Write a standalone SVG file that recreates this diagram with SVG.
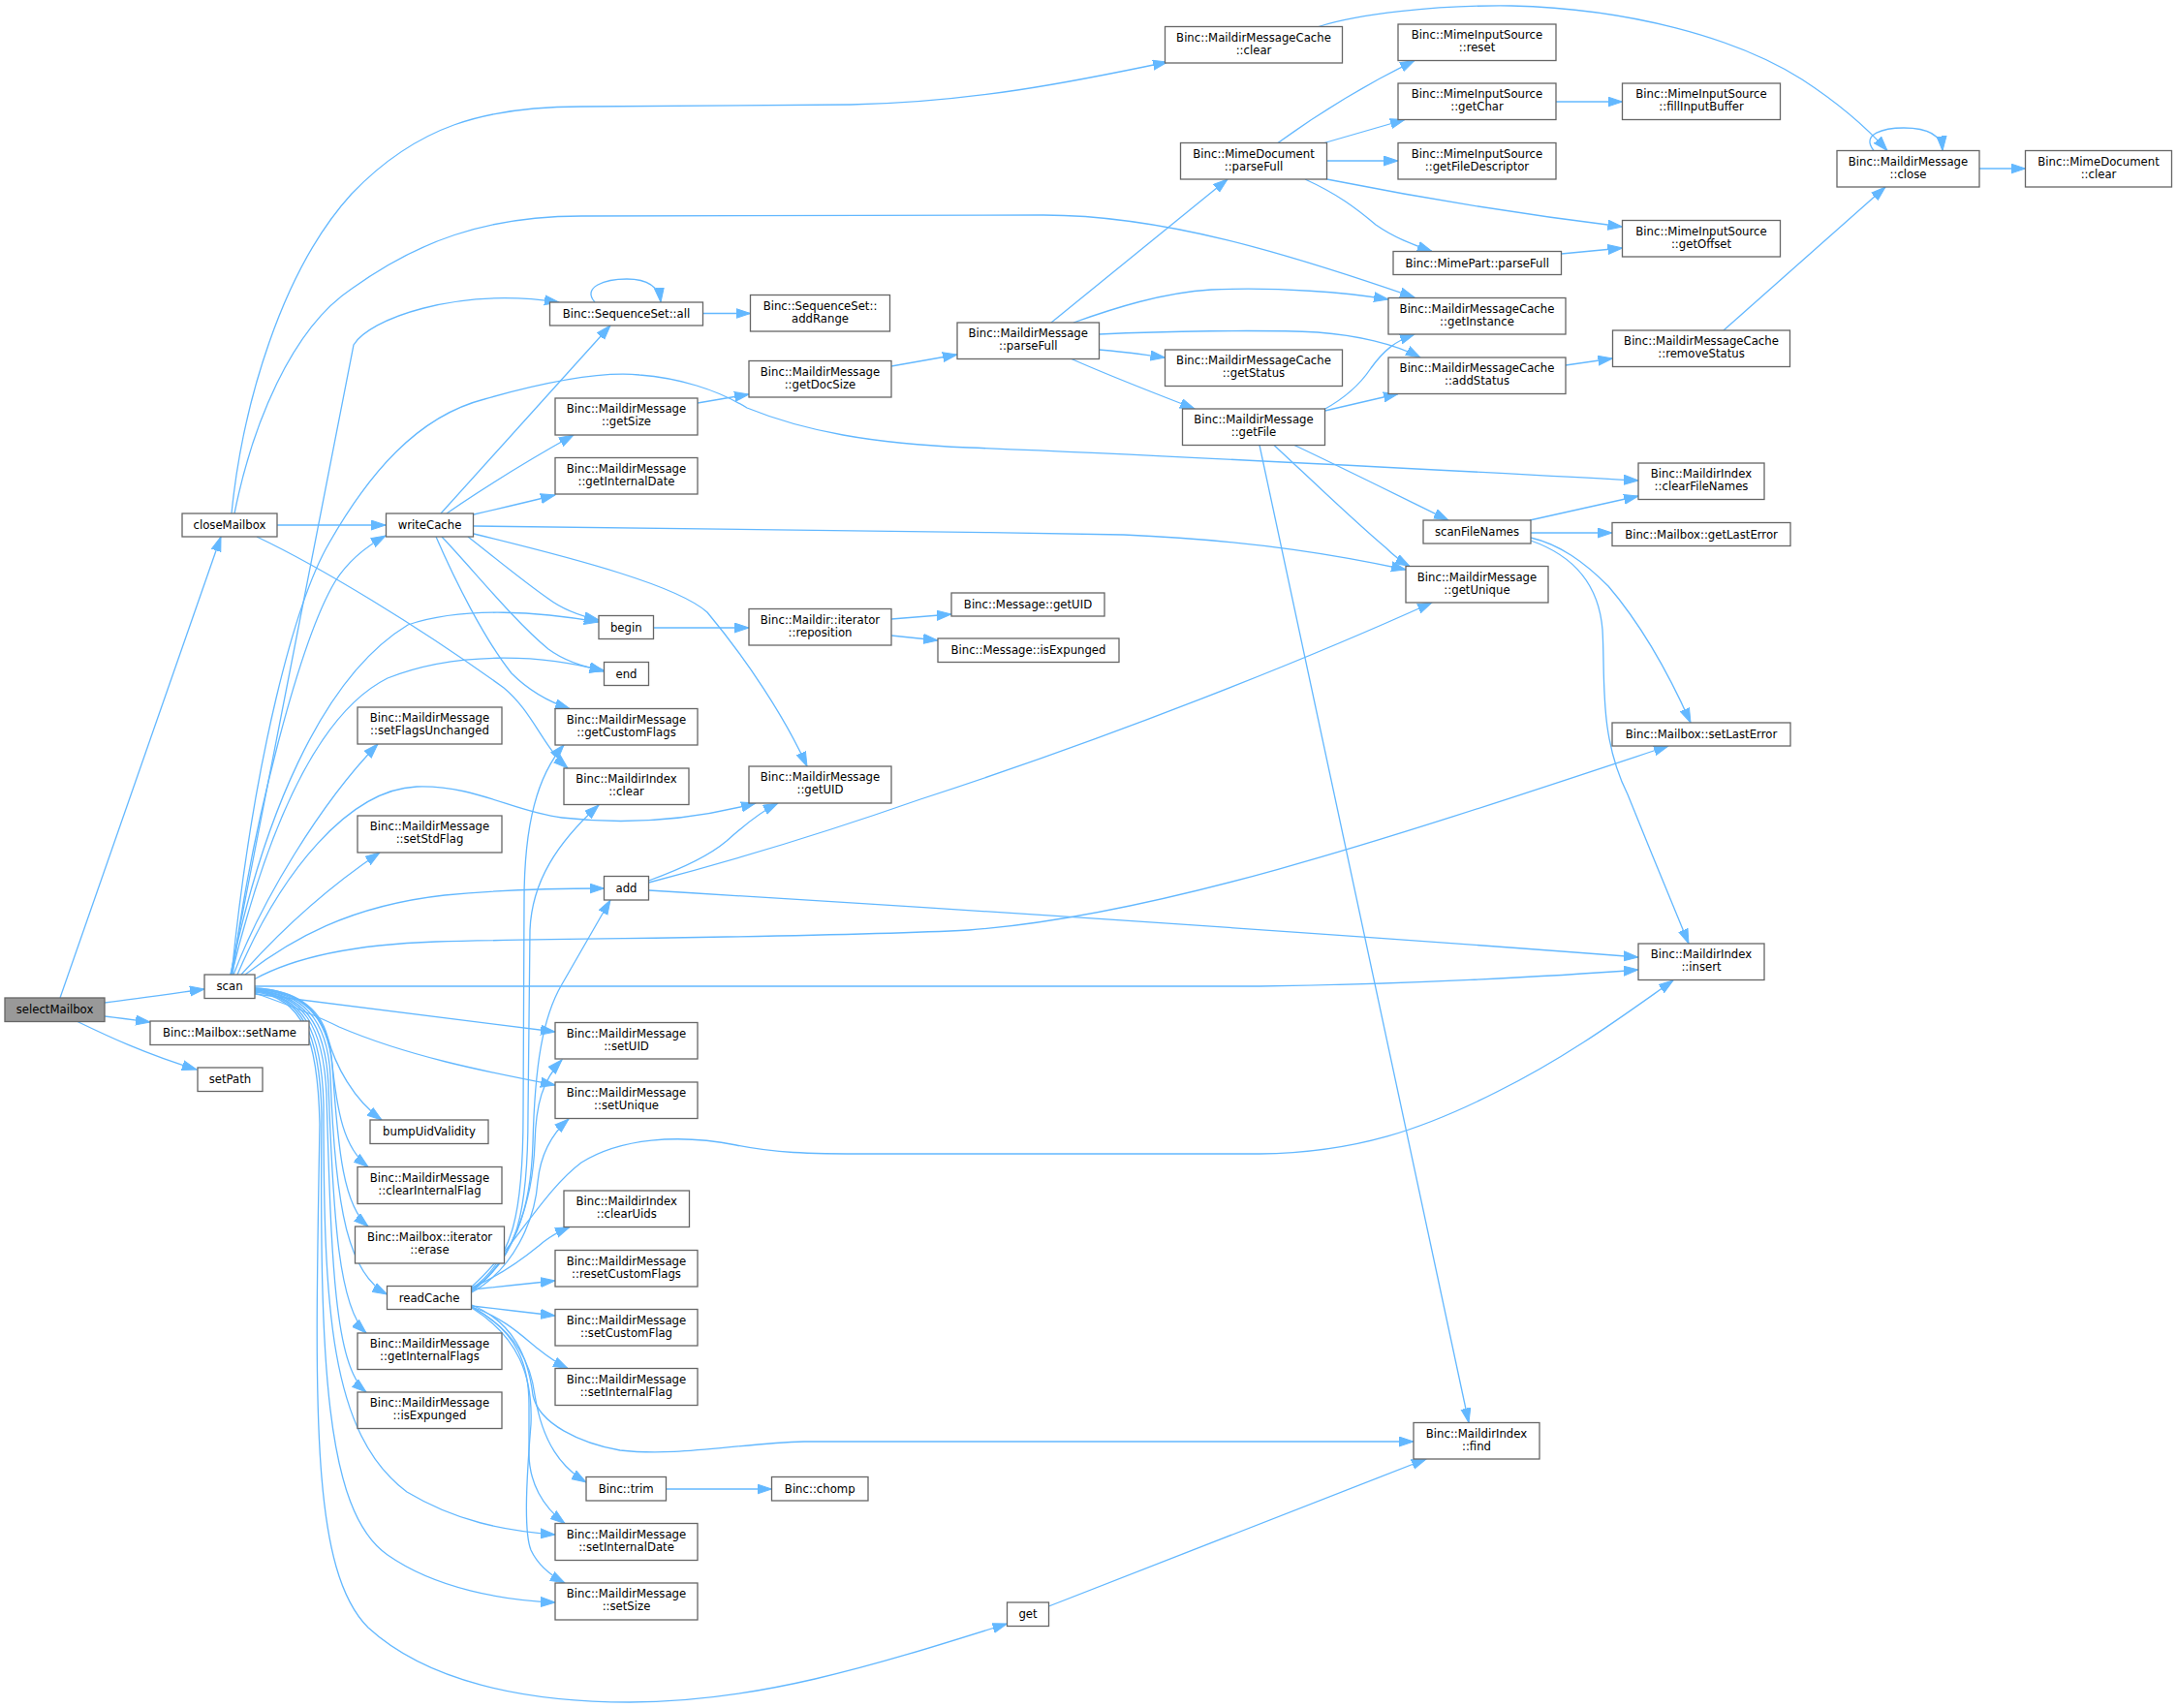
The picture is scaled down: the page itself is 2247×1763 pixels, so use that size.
<svg xmlns="http://www.w3.org/2000/svg" width="2247" height="1763" viewBox="0 0 2247 1763">
<style>
.node rect{fill:#ffffff;stroke:#666666;stroke-width:1.3}
.node text{font-family:"DejaVu Sans","Liberation Sans",sans-serif;font-size:11.7px;text-anchor:middle;fill:#000000}
#n_selectMailbox rect{fill:#999999}
.edges path{fill:none;stroke:#63b8ff;stroke-width:1.3;marker-end:url(#arr)}
</style>
<defs>
<marker id="arr" markerUnits="userSpaceOnUse" markerWidth="16" markerHeight="12" refX="15" refY="5.5" orient="auto">
<path d="M0,0.5 L15,5.5 L0,10.5 Z" fill="#63b8ff" stroke="#63b8ff" stroke-width="1"/>
</marker>
</defs>
<rect width="2247" height="1763" fill="#ffffff"/>
<g class="edges">
<path d="M62,1030 L228,554"/>
<path d="M108,1035 C140,1031 175,1026 211,1021"/>
<path d="M108,1049 C125,1051 140,1053 155,1055"/>
<path d="M80,1054.5 C110,1069 150,1088 203,1104"/>
<path d="M239,530 C250,420 290,280 363,200 C430,130 500,110 600,110 L878,108 C1000,106 1110,84 1205,64"/>
<path d="M242,530 C260,440 300,340 363,298 C430,250 500,223 600,223 L1077,222 C1200,222 1330,262 1460,307"/>
<path d="M286,542 L398,542"/>
<path d="M265,554 C330,585 430,645 520,710 C550,735 560,770 586,793"/>
<path d="M455,530 L630,336"/>
<path d="M461,530 C490,510 540,478 592,449"/>
<path d="M489,531 C515,525 545,518 573,511"/>
<path d="M489,543 C600,545 900,547 1160,552 C1300,558 1390,575 1451,588"/>
<path d="M483,554 C510,575 540,600 566,618 C582,630 600,636 618,640"/>
<path d="M456,554 C490,590 530,640 566,670 C585,684 605,689 623.5,692"/>
<path d="M450,554 C470,600 500,660 528,695 C545,712 565,724 588,731.5"/>
<path d="M489,551 C600,578 700,605 730,632 C770,680 810,740 833,791"/>
<path d="M238,1006 L365,356 C380,330 470,296 577,312"/>
<path d="M239,1006 C262,780 305,620 340,560 C380,490 430,430 500,412 C560,395 620,383 660,387 C700,390 740,402 771,421 C830,445 900,458 1000,462 C1250,472 1500,486 1691,496"/>
<path d="M240,1006 C260,850 310,660 346,600 C360,578 378,564 398,553"/>
<path d="M238,1006 C270,850 330,700 421,645 C480,625 560,632 618,642"/>
<path d="M239,1006 C270,880 320,740 400,700 C470,672 560,675 623.5,693"/>
<path d="M241,1006 C270,930 330,830 390,768"/>
<path d="M245,1006 C290,900 360,815 430,812 C490,810 530,838 580,844 C650,852 720,845 780,829"/>
<path d="M249,1006 C290,960 340,915 392,880"/>
<path d="M253,1006 C300,970 360,935 459,924 C520,918 570,917 623.5,917"/>
<path d="M262,1011 C300,990 360,975 450,972 C600,968 850,968 1000,960 C1200,945 1450,860 1722,770"/>
<path d="M263,1018 L1300,1018 C1450,1016 1600,1008 1691,1001"/>
<path d="M263,1026 C350,1037 460,1051 573,1065"/>
<path d="M263,1025 C300,1038 330,1050 350,1060 C420,1090 500,1106 573,1120"/>
<path d="M263,1020 C305,1022 330,1040 338,1070 C346,1100 365,1135 394,1156"/>
<path d="M263,1020 C310,1022 336,1045 342,1090 C348,1150 355,1185 380,1204.5"/>
<path d="M263,1021 C312,1023 338,1048 343,1100 C349,1190 355,1245 380,1266"/>
<path d="M263,1021 C312,1024 338,1052 341,1110 C346,1250 360,1315 399.5,1336"/>
<path d="M263,1022 C312,1025 336,1055 339,1120 C344,1260 350,1350 378,1376"/>
<path d="M263,1022 C312,1026 334,1058 337,1130 C342,1300 345,1410 378,1437"/>
<path d="M263,1023 C312,1027 332,1062 334,1140 C334,1350 340,1480 420,1540 C470,1570 520,1580 573,1584"/>
<path d="M263,1023 C312,1028 330,1066 332,1150 C330,1400 335,1560 400,1605 C450,1640 520,1652 573,1654"/>
<path d="M263,1024 C312,1029 328,1070 330,1160 C325,1450 320,1620 380,1680 C440,1735 540,1757 650,1757 C780,1757 900,1720 1039.5,1676"/>
<path d="M487,1330 C530,1300 540,1250 540,1150 L541,930 C541,850 555,800 582,769"/>
<path d="M487,1331 C535,1300 545,1250 545,1150 L547,960 C549,910 575,870 618,831"/>
<path d="M487,1332 C530,1300 548,1250 550,1180 C552,1100 560,1050 580,1016 L630,929"/>
<path d="M487,1333 C530,1300 550,1240 552,1180 C553,1140 560,1115 580,1094"/>
<path d="M487,1334 C530,1310 552,1260 555,1220 C558,1190 570,1170 587,1155"/>
<path d="M487,1328 C530,1290 560,1230 600,1200 C640,1175 700,1170 760,1182 C800,1190 830,1191 900,1191 L1300,1191 C1400,1190 1470,1165 1545,1127 C1620,1090 1680,1045 1727,1012"/>
<path d="M487,1329 C520,1315 545,1295 556,1286 C565,1278 575,1272 588,1266.5"/>
<path d="M487,1331 C515,1328 545,1325 573,1322"/>
<path d="M487,1348 C515,1351 545,1355 573,1358"/>
<path d="M487,1349 C520,1360 540,1380 555,1392 C565,1400 575,1407 586,1412.5"/>
<path d="M487,1347 C530,1365 545,1400 550,1440 C556,1470 600,1490 640,1497 C700,1504 760,1490 830,1488 L1459,1488"/>
<path d="M487,1349 C535,1375 548,1410 552,1440 C560,1490 580,1515 605,1530"/>
<path d="M487,1349 C535,1375 546,1410 546,1450 L546,1500 C546,1530 560,1555 583,1572.5"/>
<path d="M487,1350 C535,1380 550,1420 548,1470 C544,1520 540,1580 548,1600 C555,1615 570,1627 583,1634"/>
<path d="M669.5,909 C700,898 730,885 750,868 C770,850 785,838 803,829"/>
<path d="M669.5,911 C750,890 850,860 950,825 C1150,760 1350,680 1478,622"/>
<path d="M669.5,919 C900,933 1300,958 1691,988"/>
<path d="M674.5,648 L773,648"/>
<path d="M920,639 L982,634"/>
<path d="M920,656 L968,661"/>
<path d="M720,416 L773,407"/>
<path d="M920,378 L988,366"/>
<path d="M725.5,323.5 L774.5,323.5"/>
<path d="M614,312 C600,296 625,288 647,288 C665,288 680,294 682,312"/>
<path d="M1085,333 L1267,185"/>
<path d="M1108,333 C1150,318 1200,302 1250,299 C1320,296 1390,302 1433,309"/>
<path d="M1134.5,345 C1200,342 1300,340 1360,343 C1400,346 1440,355 1466,369"/>
<path d="M1134.5,361 C1160,363 1180,366 1202.5,369"/>
<path d="M1106,370.5 C1150,390 1190,405 1233,422"/>
<path d="M1319,147.5 C1350,125 1400,92 1460,62.5"/>
<path d="M1367,147.5 L1450,123.5"/>
<path d="M1369.5,166 L1443,166"/>
<path d="M1369.5,185 C1450,201 1560,220 1674.5,234"/>
<path d="M1347,185 C1380,200 1400,215 1420,232 C1440,246 1460,253 1478,259.5"/>
<path d="M1606,105 L1674.5,105"/>
<path d="M1611.5,262 L1674.5,256"/>
<path d="M1366,423 C1390,410 1405,395 1415,380 C1428,362 1440,352 1460,345"/>
<path d="M1367.5,424 L1443,406.5"/>
<path d="M1336,459.5 C1390,485 1440,510 1495,537"/>
<path d="M1315,459.5 C1350,492 1400,540 1430,565 C1440,575 1447,580 1455,584.5"/>
<path d="M1300,459.5 L1516,1468.5"/>
<path d="M1616,377 L1664.5,370"/>
<path d="M1779,341 L1946,193"/>
<path d="M1361,27.5 C1400,15 1480,5 1560,6 C1680,9 1790,38 1860,82 C1900,108 1925,130 1948,155.5"/>
<path d="M1934,155.5 C1920,138 1945,132 1965,132 C1990,132 2004,140 2005,155.5"/>
<path d="M2043,174 L2090.5,174"/>
<path d="M1579,537 L1691,512"/>
<path d="M1580,550 L1664,550"/>
<path d="M1580,555 C1610,562 1635,580 1660,605 C1690,640 1720,690 1745,746"/>
<path d="M1580,558 C1620,572 1650,600 1654,650 C1657,700 1650,760 1680,820 C1700,870 1725,930 1743,974"/>
<path d="M687.5,1537 L796.5,1537"/>
<path d="M1082.5,1658 L1472,1506"/>
</g>
<g id="n_selectMailbox" class="node"><rect x="5" y="1030" width="103" height="24.5"/><text x="56.5" y="1046.3">selectMailbox</text></g>
<g id="n_scan" class="node"><rect x="211" y="1006" width="52" height="24.5"/><text x="237" y="1022.3">scan</text></g>
<g id="n_setName" class="node"><rect x="155" y="1054" width="164" height="24.5"/><text x="237" y="1070.3">Binc::Mailbox::setName</text></g>
<g id="n_setPath" class="node"><rect x="204" y="1102" width="67" height="24.5"/><text x="237.5" y="1118.3">setPath</text></g>
<g id="n_closeMailbox" class="node"><rect x="188" y="530" width="98" height="24"/><text x="237" y="546">closeMailbox</text></g>
<g id="n_writeCache" class="node"><rect x="398.5" y="530" width="90" height="24"/><text x="443.5" y="546">writeCache</text></g>
<g id="n_setFlagsUnchanged" class="node"><rect x="369" y="730" width="149" height="38"/><text x="443.5" y="745"><tspan x="443.5" y="745">Binc::MaildirMessage</tspan><tspan x="443.5" y="758">::setFlagsUnchanged</tspan></text></g>
<g id="n_setStdFlag" class="node"><rect x="369" y="842" width="149" height="38"/><text x="443.5" y="857"><tspan x="443.5" y="857">Binc::MaildirMessage</tspan><tspan x="443.5" y="870">::setStdFlag</tspan></text></g>
<g id="n_bumpUidValidity" class="node"><rect x="382" y="1156" width="122" height="24.5"/><text x="443" y="1172.3">bumpUidValidity</text></g>
<g id="n_clearInternalFlag" class="node"><rect x="369" y="1204.5" width="149" height="38"/><text x="443.5" y="1219.5"><tspan x="443.5" y="1219.5">Binc::MaildirMessage</tspan><tspan x="443.5" y="1232.5">::clearInternalFlag</tspan></text></g>
<g id="n_erase" class="node"><rect x="366.5" y="1266" width="154" height="38"/><text x="443.5" y="1281"><tspan x="443.5" y="1281">Binc::Mailbox::iterator</tspan><tspan x="443.5" y="1294">::erase</tspan></text></g>
<g id="n_readCache" class="node"><rect x="399.5" y="1327.5" width="87" height="24"/><text x="443" y="1343.5">readCache</text></g>
<g id="n_getInternalFlags" class="node"><rect x="369" y="1376" width="149" height="37.5"/><text x="443.5" y="1391"><tspan x="443.5" y="1391">Binc::MaildirMessage</tspan><tspan x="443.5" y="1404">::getInternalFlags</tspan></text></g>
<g id="n_isExpunged" class="node"><rect x="369" y="1437" width="149" height="37.5"/><text x="443.5" y="1452"><tspan x="443.5" y="1452">Binc::MaildirMessage</tspan><tspan x="443.5" y="1465">::isExpunged</tspan></text></g>
<g id="n_all" class="node"><rect x="567.5" y="312" width="158" height="24"/><text x="646.5" y="328">Binc::SequenceSet::all</text></g>
<g id="n_addRange" class="node"><rect x="774.5" y="304.5" width="144" height="37.5"/><text x="846.5" y="319.5"><tspan x="846.5" y="319.5">Binc::SequenceSet::</tspan><tspan x="846.5" y="332.5">addRange</tspan></text></g>
<g id="n_getSize" class="node"><rect x="573" y="411" width="147" height="38"/><text x="646.5" y="426"><tspan x="646.5" y="426">Binc::MaildirMessage</tspan><tspan x="646.5" y="439">::getSize</tspan></text></g>
<g id="n_getInternalDate" class="node"><rect x="573" y="472.5" width="147" height="37.5"/><text x="646.5" y="487.5"><tspan x="646.5" y="487.5">Binc::MaildirMessage</tspan><tspan x="646.5" y="500.5">::getInternalDate</tspan></text></g>
<g id="n_getDocSize" class="node"><rect x="773" y="372.5" width="147" height="37.5"/><text x="846.5" y="387.5"><tspan x="846.5" y="387.5">Binc::MaildirMessage</tspan><tspan x="846.5" y="400.5">::getDocSize</tspan></text></g>
<g id="n_mmParseFull" class="node"><rect x="988" y="333" width="146.5" height="37.5"/><text x="1061.25" y="348"><tspan x="1061.25" y="348">Binc::MaildirMessage</tspan><tspan x="1061.25" y="361">::parseFull</tspan></text></g>
<g id="n_begin" class="node"><rect x="618" y="635.5" width="56.5" height="24"/><text x="646.25" y="651.5">begin</text></g>
<g id="n_end" class="node"><rect x="623.5" y="683.5" width="46" height="24"/><text x="646.5" y="699.5">end</text></g>
<g id="n_getCustomFlags" class="node"><rect x="573" y="731.5" width="147" height="37.5"/><text x="646.5" y="746.5"><tspan x="646.5" y="746.5">Binc::MaildirMessage</tspan><tspan x="646.5" y="759.5">::getCustomFlags</tspan></text></g>
<g id="n_miClear" class="node"><rect x="582" y="793" width="129" height="37.5"/><text x="646.5" y="808"><tspan x="646.5" y="808">Binc::MaildirIndex</tspan><tspan x="646.5" y="821">::clear</tspan></text></g>
<g id="n_reposition" class="node"><rect x="773" y="628.5" width="147" height="37.5"/><text x="846.5" y="643.5"><tspan x="846.5" y="643.5">Binc::Maildir::iterator</tspan><tspan x="846.5" y="656.5">::reposition</tspan></text></g>
<g id="n_msgGetUID" class="node"><rect x="982" y="612" width="158" height="24"/><text x="1061" y="628">Binc::Message::getUID</text></g>
<g id="n_msgIsExpunged" class="node"><rect x="968" y="659" width="187" height="24.5"/><text x="1061.5" y="675.3">Binc::Message::isExpunged</text></g>
<g id="n_mmGetUID" class="node"><rect x="773" y="791" width="147" height="38"/><text x="846.5" y="806"><tspan x="846.5" y="806">Binc::MaildirMessage</tspan><tspan x="846.5" y="819">::getUID</tspan></text></g>
<g id="n_add" class="node"><rect x="623.5" y="904.5" width="46" height="24.5"/><text x="646.5" y="920.8">add</text></g>
<g id="n_setUID" class="node"><rect x="573" y="1055.5" width="147" height="37.5"/><text x="646.5" y="1070.5"><tspan x="646.5" y="1070.5">Binc::MaildirMessage</tspan><tspan x="646.5" y="1083.5">::setUID</tspan></text></g>
<g id="n_setUnique" class="node"><rect x="573" y="1117" width="147" height="37.5"/><text x="646.5" y="1132"><tspan x="646.5" y="1132">Binc::MaildirMessage</tspan><tspan x="646.5" y="1145">::setUnique</tspan></text></g>
<g id="n_clearUids" class="node"><rect x="582" y="1229" width="129.5" height="37.5"/><text x="646.75" y="1244"><tspan x="646.75" y="1244">Binc::MaildirIndex</tspan><tspan x="646.75" y="1257">::clearUids</tspan></text></g>
<g id="n_resetCustomFlags" class="node"><rect x="573" y="1290.5" width="147" height="37.5"/><text x="646.5" y="1305.5"><tspan x="646.5" y="1305.5">Binc::MaildirMessage</tspan><tspan x="646.5" y="1318.5">::resetCustomFlags</tspan></text></g>
<g id="n_setCustomFlag" class="node"><rect x="573" y="1351.5" width="147" height="37.5"/><text x="646.5" y="1366.5"><tspan x="646.5" y="1366.5">Binc::MaildirMessage</tspan><tspan x="646.5" y="1379.5">::setCustomFlag</tspan></text></g>
<g id="n_setInternalFlag" class="node"><rect x="573" y="1412.5" width="147" height="38"/><text x="646.5" y="1427.5"><tspan x="646.5" y="1427.5">Binc::MaildirMessage</tspan><tspan x="646.5" y="1440.5">::setInternalFlag</tspan></text></g>
<g id="n_trim" class="node"><rect x="605" y="1524.5" width="82.5" height="24.5"/><text x="646.25" y="1540.8">Binc::trim</text></g>
<g id="n_chomp" class="node"><rect x="796.5" y="1524.5" width="99.5" height="24.5"/><text x="846.25" y="1540.8">Binc::chomp</text></g>
<g id="n_setInternalDate" class="node"><rect x="573" y="1572.5" width="147" height="38"/><text x="646.5" y="1587.5"><tspan x="646.5" y="1587.5">Binc::MaildirMessage</tspan><tspan x="646.5" y="1600.5">::setInternalDate</tspan></text></g>
<g id="n_setSize" class="node"><rect x="573" y="1634" width="147" height="38"/><text x="646.5" y="1649"><tspan x="646.5" y="1649">Binc::MaildirMessage</tspan><tspan x="646.5" y="1662">::setSize</tspan></text></g>
<g id="n_get" class="node"><rect x="1039.5" y="1654" width="43" height="24.5"/><text x="1061" y="1670.3">get</text></g>
<g id="n_mmcClear" class="node"><rect x="1202.5" y="27.5" width="183" height="37.5"/><text x="1294" y="42.5"><tspan x="1294" y="42.5">Binc::MaildirMessageCache</tspan><tspan x="1294" y="55.5">::clear</tspan></text></g>
<g id="n_reset" class="node"><rect x="1443" y="25" width="163" height="37.5"/><text x="1524.5" y="40"><tspan x="1524.5" y="40">Binc::MimeInputSource</tspan><tspan x="1524.5" y="53">::reset</tspan></text></g>
<g id="n_getChar" class="node"><rect x="1443" y="86" width="163" height="37.5"/><text x="1524.5" y="101"><tspan x="1524.5" y="101">Binc::MimeInputSource</tspan><tspan x="1524.5" y="114">::getChar</tspan></text></g>
<g id="n_getFileDescriptor" class="node"><rect x="1443" y="147.5" width="163" height="37.5"/><text x="1524.5" y="162.5"><tspan x="1524.5" y="162.5">Binc::MimeInputSource</tspan><tspan x="1524.5" y="175.5">::getFileDescriptor</tspan></text></g>
<g id="n_mdParseFull" class="node"><rect x="1218.5" y="147.5" width="151" height="37.5"/><text x="1294" y="162.5"><tspan x="1294" y="162.5">Binc::MimeDocument</tspan><tspan x="1294" y="175.5">::parseFull</tspan></text></g>
<g id="n_fillInputBuffer" class="node"><rect x="1674.5" y="86" width="163" height="37.5"/><text x="1756" y="101"><tspan x="1756" y="101">Binc::MimeInputSource</tspan><tspan x="1756" y="114">::fillInputBuffer</tspan></text></g>
<g id="n_getOffset" class="node"><rect x="1674.5" y="227.5" width="163" height="37.5"/><text x="1756" y="242.5"><tspan x="1756" y="242.5">Binc::MimeInputSource</tspan><tspan x="1756" y="255.5">::getOffset</tspan></text></g>
<g id="n_mpParseFull" class="node"><rect x="1438" y="259.5" width="173.5" height="24"/><text x="1524.75" y="275.5">Binc::MimePart::parseFull</text></g>
<g id="n_getInstance" class="node"><rect x="1433" y="307.5" width="183" height="37.5"/><text x="1524.5" y="322.5"><tspan x="1524.5" y="322.5">Binc::MaildirMessageCache</tspan><tspan x="1524.5" y="335.5">::getInstance</tspan></text></g>
<g id="n_getStatus" class="node"><rect x="1202.5" y="361" width="183" height="37.5"/><text x="1294" y="376"><tspan x="1294" y="376">Binc::MaildirMessageCache</tspan><tspan x="1294" y="389">::getStatus</tspan></text></g>
<g id="n_addStatus" class="node"><rect x="1433" y="369" width="183" height="37.5"/><text x="1524.5" y="384"><tspan x="1524.5" y="384">Binc::MaildirMessageCache</tspan><tspan x="1524.5" y="397">::addStatus</tspan></text></g>
<g id="n_removeStatus" class="node"><rect x="1664.5" y="341" width="183" height="37.5"/><text x="1756" y="356"><tspan x="1756" y="356">Binc::MaildirMessageCache</tspan><tspan x="1756" y="369">::removeStatus</tspan></text></g>
<g id="n_getFile" class="node"><rect x="1220.5" y="422" width="147" height="37.5"/><text x="1294" y="437"><tspan x="1294" y="437">Binc::MaildirMessage</tspan><tspan x="1294" y="450">::getFile</tspan></text></g>
<g id="n_clearFileNames" class="node"><rect x="1691" y="478" width="130" height="37.5"/><text x="1756" y="493"><tspan x="1756" y="493">Binc::MaildirIndex</tspan><tspan x="1756" y="506">::clearFileNames</tspan></text></g>
<g id="n_scanFileNames" class="node"><rect x="1469" y="537" width="111" height="24"/><text x="1524.5" y="553">scanFileNames</text></g>
<g id="n_getLastError" class="node"><rect x="1664" y="539.5" width="184" height="24"/><text x="1756" y="555.5">Binc::Mailbox::getLastError</text></g>
<g id="n_getUnique" class="node"><rect x="1451" y="584.5" width="147" height="37.5"/><text x="1524.5" y="599.5"><tspan x="1524.5" y="599.5">Binc::MaildirMessage</tspan><tspan x="1524.5" y="612.5">::getUnique</tspan></text></g>
<g id="n_setLastError" class="node"><rect x="1664" y="746" width="184" height="24"/><text x="1756" y="762">Binc::Mailbox::setLastError</text></g>
<g id="n_insert" class="node"><rect x="1691" y="974" width="130" height="37.5"/><text x="1756" y="989"><tspan x="1756" y="989">Binc::MaildirIndex</tspan><tspan x="1756" y="1002">::insert</tspan></text></g>
<g id="n_find" class="node"><rect x="1459" y="1468.5" width="130" height="37.5"/><text x="1524" y="1483.5"><tspan x="1524" y="1483.5">Binc::MaildirIndex</tspan><tspan x="1524" y="1496.5">::find</tspan></text></g>
<g id="n_close" class="node"><rect x="1896" y="155.5" width="147" height="37.5"/><text x="1969.5" y="170.5"><tspan x="1969.5" y="170.5">Binc::MaildirMessage</tspan><tspan x="1969.5" y="183.5">::close</tspan></text></g>
<g id="n_mdClear" class="node"><rect x="2090.5" y="155.5" width="151" height="37.5"/><text x="2166" y="170.5"><tspan x="2166" y="170.5">Binc::MimeDocument</tspan><tspan x="2166" y="183.5">::clear</tspan></text></g>
</svg>
